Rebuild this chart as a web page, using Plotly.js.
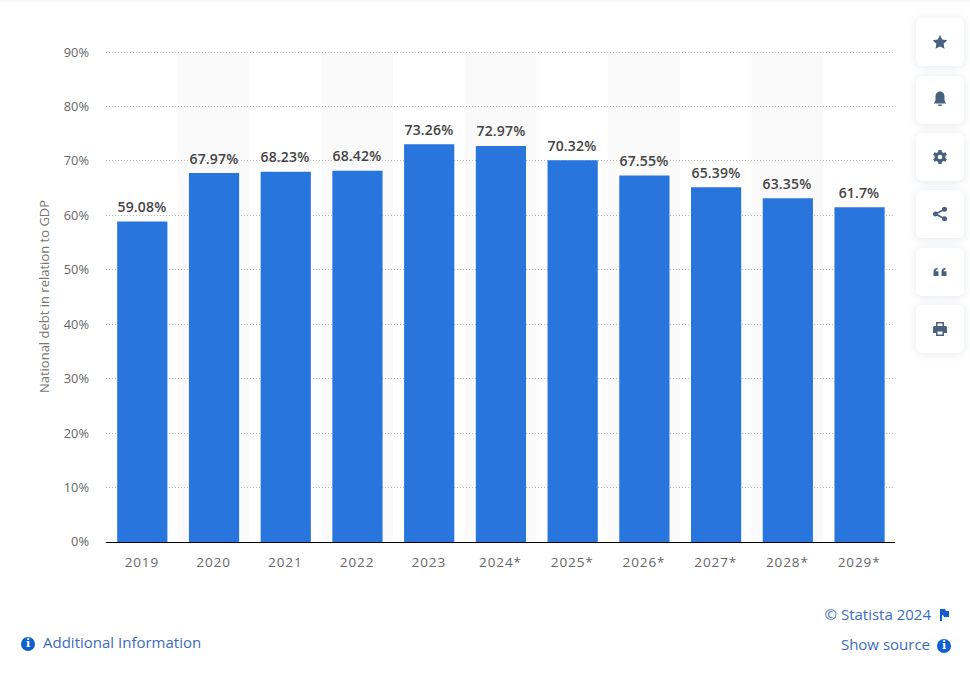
<!DOCTYPE html>
<html>
<head>
<meta charset="utf-8">
<script src="https://cdn.plot.ly/plotly-3.0.1.min.js"></script>
<style>
  html, body { margin: 0; padding: 0; background: #fff; font-family: "Open Sans", sans-serif; }
  #page { position: relative; width: 970px; height: 681px; overflow: hidden; }
  #topline { position: absolute; left: 0; top: 0; width: 970px; height: 2px; background: #f3f5f8; }
  #chart { position: absolute; left: 0; top: 0; width: 970px; height: 681px; }
  #chart .xtick text { letter-spacing: 0.9px; }
  #chart .annotation-text { letter-spacing: 0.15px; }
  .btn { position: absolute; left: 916px; width: 48px; height: 48px; background: #fff; border-radius: 6px;
         box-shadow: 0 1px 8px rgba(60, 80, 110, 0.14); }
  .btn svg { position: absolute; left: 16px; top: 16px; width: 16px; height: 16px; fill: #47617f; }
  .foot { position: absolute; font-size: 15px; color: #3b6cc0; white-space: nowrap; line-height: 20px; }
  .info { display: inline-block; width: 14px; height: 14px; border-radius: 50%; background: #0f5fd0; color: #fff;
          font: bold 11px/14px "DejaVu Serif", serif; text-align: center; vertical-align: 1px; }
</style>
</head>
<body>
<div id="page">
  <div id="topline"></div>
  <div id="chart"></div>

  <div class="btn" style="top:18px"><svg viewBox="0 0 16 16"><path d="M8 1l2.2 4.6 5 .7-3.6 3.5.9 5L8 12.4l-4.5 2.4.9-5L.8 6.3l5-.7z"/></svg></div>
  <div class="btn" style="top:76px"><svg style="top:15px" viewBox="0 0 16 16"><path d="M8 0.500c3 0 4.500 2.300 4.500 5.200v3.800l1.500 3H2l1.500-3V5.700C3.500 2.800 5 .5 8 .5zM6.300 13.500h3.400V15H6.300z"/></svg></div>
  <div class="btn" style="top:133px"><svg viewBox="0 0 16 16"><path fill-rule="evenodd" d="M6.500 1h3l.4 2 1.500.9 2-.7 1.500 2.600-1.500 1.300v1.800l1.500 1.300-1.500 2.600-2-.7-1.500.9-.4 2h-3l-.4-2-1.500-.9-2 .7L1.100 10.200l1.500-1.300V7.100L1.100 5.800l1.500-2.600 2 .7 1.500-.9zM8 5.700a2.300 2.300 0 1 0 0 4.600 2.300 2.300 0 0 0 0-4.600z"/></svg></div>
  <div class="btn" style="top:190px"><svg viewBox="0 0 16 16"><circle cx="12.500" cy="3.200" r="2.500"/><circle cx="3.500" cy="8" r="2.500"/><circle cx="12.500" cy="12.800" r="2.500"/><path d="M3.100 7.300l9-4.800.8 1.400-9 4.800zM3.900 7.300l9 4.800-.8 1.400-9-4.800z"/></svg></div>
  <div class="btn" style="top:248px"><svg viewBox="0 0 16 16"><path d="M1.500 12V8c0-2.500 1.400-4 4-4.300v1.800C4.300 5.800 3.800 6.300 3.700 7.200h2.800V12zM9.500 12V8c0-2.500 1.400-4 4-4.300v1.800c-1.200.3-1.700.8-1.800 1.700h2.800V12z"/></svg></div>
  <div class="btn" style="top:305px"><svg viewBox="0 0 16 16"><path fill-rule="evenodd" d="M4 1h8v4h1.500A1.500 1.500 0 0 1 15 6.500V12h-3v3H4v-3H1V6.500A1.500 1.500 0 0 1 2.500 5H4zM5.500 2.500V5h5V2.500zM5.500 10.500v3h5v-3z"/></svg></div>

  <div class="foot" style="left:21px;top:632px"><span class="info">i</span><span style="margin-left:8px">Additional Information</span></div>
  <div class="foot" style="right:39px;top:604px">© Statista 2024</div>
  <svg style="position:absolute;left:940px;top:609px;width:9px;height:12px" viewBox="0 0 9 12"><path fill="#0f5fd0" d="M0 0h5l1 2h3v6H4L3 6H2v6H0z"/></svg>
  <div class="foot" style="right:40px;top:634px">Show source</div>
  <div class="foot" style="left:937px;top:634px"><span class="info">i</span></div>
</div>

<script>
const years = ['2019', '2020', '2021', '2022', '2023', '2024*', '2025*', '2026*', '2027*', '2028*', '2029*'];
const debtShare = [59.08, 67.97, 68.23, 68.42, 73.26, 72.97, 70.32, 67.55, 65.39, 63.35, 61.7];
const yTicks = [0, 10, 20, 30, 40, 50, 60, 70, 80, 90];
const positions = years.map((y, i) => i);

// every second category gets a faint band behind it
const bands = positions.filter(i => i % 2 === 1).map(i => ({
  type: 'rect', layer: 'below', xref: 'x', yref: 'y',
  x0: i - 0.5, x1: i + 0.5, y0: 0, y1: 90,
  fillcolor: '#fafafa', line: { width: 0 }
}));

// labels sit a little higher above the bars than plotly's outside text
const labels = positions.map(i => ({
  x: i, y: debtShare[i], xref: 'x', yref: 'y2',
  text: debtShare[i] + '%',
  showarrow: false,
  yanchor: 'bottom',
  yshift: 3.5,
  font: { family: '"Open Sans", sans-serif', size: 14, color: '#444', weight: 600 }
}));

const data = [{
  type: 'bar',
  x: positions,
  y: debtShare,
  yaxis: 'y2',
  width: 0.7,
  offset: -0.344,
  marker: { color: '#2975de' },
  hoverinfo: 'skip'
}];

const layout = {
  width: 970,
  height: 681,
  margin: { l: 106, r: 75, t: 50.6, b: 138.7 },
  paper_bgcolor: 'rgba(0,0,0,0)',
  plot_bgcolor: 'rgba(0,0,0,0)',
  showlegend: false,
  shapes: bands,
  annotations: labels,
  font: { family: '"Open Sans", sans-serif' },
  xaxis: {
    range: [-0.5, 10.5],
    tickmode: 'array',
    tickvals: positions,
    ticktext: years,
    tickfont: { size: 13.5, color: '#666' },
    ticks: '',
    showgrid: false,
    zeroline: false,
    showline: true,
    linecolor: '#000',
    linewidth: 1.2,
    ticklabelstandoff: 8
  },
  yaxis: {
    range: [0, 90.2],
    tickmode: 'array',
    tickvals: yTicks,
    ticktext: yTicks.map(v => v + '%'),
    tickfont: { size: 12.8, color: '#666' },
    ticks: '',
    ticklabelstandoff: 16,
    showgrid: true,
    gridcolor: '#bbbbbb',
    griddash: '1px,2px',
    gridwidth: 1,
    zeroline: false,
    title: { text: 'National debt in relation to GDP', font: { size: 13, color: '#777' }, standoff: 11 }
  },
  // bars stand about 1px lower than the gridlines in the picture
  yaxis2: { overlaying: 'y', range: [0.2, 90.4], visible: false, fixedrange: true }
};

Plotly.newPlot('chart', data, layout, { displayModeBar: false, staticPlot: true });
</script>
</body>
</html>
